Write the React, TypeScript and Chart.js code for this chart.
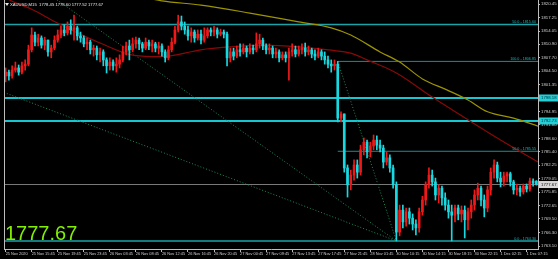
import React, { useEffect, useRef } from "react";
import { Chart, registerables } from "chart.js";

Chart.register(...registerables);

// ---------- data ----------
const timeTickBars = [0, 8, 16, 24, 32, 40, 48, 56, 64, 72, 80, 88, 96, 104, 112, 120, 128, 136, 144, 152, 160];
const timeTickLabels = [
  "25 Nov 2020", "25 Nov 15:45", "25 Nov 19:45", "25 Nov 23:45", "26 Nov 03:45", "26 Nov 08:45",
  "26 Nov 12:45", "26 Nov 16:45", "26 Nov 20:45", "27 Nov 00:45", "27 Nov 09:45", "27 Nov 13:45",
  "27 Nov 17:45", "27 Nov 21:45", "28 Nov 01:45", "30 Nov 10:15", "30 Nov 14:15", "30 Nov 18:15",
  "30 Nov 22:15", "1 Dec 02:15", "1 Dec 07:15",
];
const priceTicks = [
  1820.45, 1817.25, 1814.05, 1810.9, 1807.7, 1804.5, 1801.35, 1798.15, 1794.95, 1791.8,
  1788.6, 1785.4, 1782.25, 1779.05, 1775.85, 1772.65, 1769.5, 1766.3, 1763.1,
];

const opens = [
  1803.4, 1804.3, 1803.4, 1804.8, 1805.3, 1804.3, 1805.8, 1806.2, 1809.6, 1813.1,
  1811.4, 1812.4, 1810.7, 1811.9, 1809.1, 1810.0, 1811.9, 1813.1, 1814.3, 1813.6,
  1815.2, 1814.3, 1814.8, 1812.9, 1812.4, 1811.0, 1811.4, 1809.6, 1810.0, 1808.4,
  1809.1, 1807.2, 1805.8, 1806.7, 1805.8, 1806.2, 1807.2, 1809.1, 1810.5, 1809.6,
  1811.0, 1811.9, 1811.0, 1810.0, 1811.4, 1810.5, 1811.0, 1810.0, 1810.5, 1809.1,
  1807.7, 1809.6, 1811.4, 1814.3, 1816.2, 1815.2, 1814.3, 1812.9, 1813.8, 1812.4,
  1813.3, 1811.9, 1812.9, 1814.3, 1813.8, 1814.3, 1813.3, 1813.8, 1813.3, 1807.7,
  1809.1, 1808.1, 1809.6, 1809.1, 1810.0, 1809.1, 1810.0, 1809.6, 1811.0, 1811.9,
  1810.5, 1809.6, 1810.0, 1808.6, 1809.1, 1807.7, 1808.4, 1807.7, 1809.1, 1809.6,
  1808.6, 1809.6, 1810.0, 1809.1, 1809.6, 1808.6, 1808.1, 1809.1, 1808.1, 1807.2,
  1806.2, 1805.8, 1806.2, 1793.4, 1794.4,
  1781.6, 1777.6, 1779.9, 1782.3, 1780.6, 1785.9, 1787.7, 1785.4, 1786.8, 1788.2,
  1787.0, 1786.3, 1783.0, 1784.0, 1781.6, 1777.6, 1766.4, 1771.6, 1768.8, 1771.2,
  1769.7, 1768.3, 1767.4, 1771.2, 1774.0, 1777.6, 1779.9, 1778.3, 1775.2, 1776.8,
  1774.5, 1772.8, 1771.2, 1770.4, 1772.1, 1770.7, 1771.6, 1769.3, 1771.2, 1772.8,
  1775.2, 1776.8, 1774.0, 1772.1, 1776.4, 1780.6, 1782.3, 1779.2, 1778.3, 1779.7,
  1780.2, 1778.3, 1776.4, 1776.8, 1775.9, 1777.3, 1776.6, 1778.5, 1778.45,
];
const highs = [
  1805.3, 1804.8, 1805.8, 1806.7, 1806.0, 1806.7, 1807.2, 1810.7, 1814.8, 1813.8,
  1813.3, 1812.9, 1812.6, 1811.9, 1810.7, 1812.9, 1814.3, 1815.2, 1815.5, 1816.2,
  1816.7, 1817.8, 1815.2, 1813.8, 1812.9, 1812.4, 1811.9, 1810.7, 1810.5, 1810.0,
  1809.6, 1807.7, 1807.7, 1807.2, 1807.7, 1808.4, 1810.5, 1811.4, 1811.9, 1812.4,
  1812.6, 1812.4, 1811.4, 1812.4, 1811.9, 1811.9, 1811.4, 1811.4, 1811.0, 1809.6,
  1810.5, 1812.4, 1815.2, 1817.8, 1817.6, 1816.2, 1815.2, 1814.8, 1814.3, 1814.3,
  1814.3, 1814.8, 1814.8, 1814.8, 1815.2, 1814.8, 1814.5, 1814.3, 1813.8, 1810.0,
  1810.0, 1810.5, 1811.0, 1811.0, 1810.5, 1811.0, 1810.7, 1813.6, 1813.3, 1812.4,
  1811.0, 1811.0, 1810.5, 1810.0, 1809.6, 1809.1, 1809.1, 1810.0, 1811.0, 1810.5,
  1810.5, 1811.0, 1811.2, 1810.5, 1810.0, 1809.6, 1810.0, 1809.6, 1809.1, 1808.1,
  1807.2, 1807.2, 1806.85, 1794.9, 1794.4,
  1782.3, 1781.1, 1783.5, 1783.5, 1787.0, 1788.7, 1788.2, 1787.7, 1789.4, 1789.2,
  1788.2, 1787.0, 1785.4, 1784.7, 1782.3, 1778.3, 1772.8, 1772.8, 1772.1, 1772.1,
  1770.7, 1769.3, 1772.1, 1774.9, 1778.3, 1781.6, 1781.1, 1779.2, 1777.6, 1777.3,
  1775.7, 1774.0, 1772.8, 1772.8, 1772.8, 1772.6, 1772.6, 1772.1, 1774.0, 1776.4,
  1778.0, 1777.3, 1775.2, 1777.3, 1781.6, 1783.5, 1783.0, 1780.6, 1780.6, 1780.6,
  1780.6, 1778.7, 1777.8, 1777.3, 1777.8, 1777.8, 1779.2, 1779.0, 1778.6,
];
const lows = [
  1802.0, 1802.4, 1802.9, 1804.3, 1803.6, 1803.9, 1804.8, 1805.8, 1809.1, 1810.5,
  1810.5, 1810.0, 1809.6, 1808.1, 1807.7, 1809.6, 1811.4, 1812.4, 1812.9, 1813.1,
  1813.3, 1811.9, 1811.9, 1811.4, 1810.3, 1809.6, 1808.6, 1808.1, 1807.2, 1806.7,
  1805.8, 1804.1, 1804.8, 1804.8, 1804.3, 1805.3, 1806.7, 1808.4, 1807.2, 1809.1,
  1810.0, 1809.6, 1809.1, 1809.6, 1809.6, 1809.1, 1809.1, 1808.6, 1808.1, 1806.7,
  1807.2, 1809.1, 1811.0, 1813.8, 1814.3, 1813.3, 1811.9, 1811.4, 1811.4, 1811.9,
  1811.0, 1811.4, 1812.4, 1812.9, 1812.9, 1812.4, 1812.9, 1812.4, 1805.8, 1806.7,
  1807.2, 1807.7, 1808.1, 1808.6, 1807.9, 1808.6, 1808.6, 1809.1, 1810.0, 1809.6,
  1808.6, 1808.6, 1807.7, 1807.7, 1806.7, 1807.2, 1806.7, 1802.4, 1808.1, 1807.9,
  1808.1, 1808.6, 1808.1, 1808.4, 1807.7, 1807.2, 1807.7, 1807.2, 1806.2, 1805.3,
  1804.3, 1804.8, 1792.5, 1792.5, 1780.6,
  1774.7, 1776.4, 1778.7, 1779.2, 1779.9, 1784.7, 1784.0, 1784.2, 1785.9, 1785.9,
  1785.4, 1781.6, 1782.3, 1780.6, 1776.8, 1764.3, 1765.5, 1767.4, 1767.8, 1768.3,
  1766.9, 1765.7, 1766.4, 1770.4, 1772.8, 1776.8, 1777.3, 1774.0, 1773.3, 1772.8,
  1771.6, 1769.7, 1764.3, 1768.8, 1769.3, 1768.8, 1765.0, 1766.9, 1769.7, 1771.6,
  1774.0, 1772.6, 1770.0, 1771.2, 1775.2, 1779.2, 1778.3, 1777.1, 1777.3, 1778.3,
  1777.3, 1775.4, 1775.2, 1774.9, 1775.4, 1775.9, 1776.1, 1777.3, 1777.52,
];
const closes = [
  1804.3, 1803.4, 1804.8, 1805.3, 1804.3, 1805.8, 1806.2, 1809.6, 1813.1, 1811.4,
  1812.4, 1810.7, 1811.9, 1809.1, 1810.0, 1811.9, 1813.1, 1814.3, 1813.6, 1815.2,
  1814.3, 1814.8, 1812.9, 1812.4, 1811.0, 1811.4, 1809.6, 1810.0, 1808.4, 1809.1,
  1807.2, 1805.8, 1806.7, 1805.8, 1806.2, 1807.2, 1809.1, 1810.5, 1809.6, 1811.0,
  1811.9, 1811.0, 1810.0, 1811.4, 1810.5, 1811.0, 1810.0, 1810.5, 1809.1, 1807.7,
  1809.6, 1811.4, 1814.3, 1816.2, 1815.2, 1814.3, 1812.9, 1813.8, 1812.4, 1813.3,
  1811.9, 1812.9, 1814.3, 1813.8, 1814.3, 1813.3, 1813.8, 1813.3, 1807.7, 1809.1,
  1808.1, 1809.6, 1809.1, 1810.0, 1809.1, 1810.0, 1809.6, 1811.0, 1811.9, 1810.5,
  1809.6, 1810.0, 1808.6, 1809.1, 1807.7, 1808.4, 1807.7, 1809.1, 1809.6, 1808.6,
  1809.6, 1810.0, 1809.1, 1809.6, 1808.6, 1808.1, 1809.1, 1808.1, 1807.2, 1806.2,
  1805.8, 1806.2, 1793.4, 1794.4, 1781.6,
  1777.6, 1779.9, 1782.3, 1780.6, 1785.9, 1787.7, 1785.4, 1786.8, 1788.2, 1787.0,
  1786.3, 1783.0, 1784.0, 1781.6, 1777.6, 1766.4, 1771.6, 1768.8, 1771.2, 1769.7,
  1768.3, 1767.4, 1771.2, 1774.0, 1777.6, 1779.9, 1778.3, 1775.2, 1776.8, 1774.5,
  1772.8, 1771.2, 1770.4, 1772.1, 1770.7, 1771.6, 1769.3, 1771.2, 1772.8, 1775.2,
  1776.8, 1774.0, 1772.1, 1776.4, 1780.6, 1782.3, 1779.2, 1778.3, 1779.7, 1780.2,
  1778.3, 1776.4, 1776.8, 1775.9, 1777.3, 1776.6, 1778.5, 1778.0, 1777.67,
];

// moving averages (key points: bar index / price)
const maFastBars = [0, 2, 8, 15, 22, 29, 38, 45, 50, 55, 60, 69, 79, 90, 100, 106, 111, 120, 131, 142, 152, 163.5];
const maFastValues = [1821.9, 1821.1, 1819.2, 1816.3, 1813.6, 1811.2, 1808.5, 1808.0, 1808.1, 1808.8, 1809.6, 1810.3, 1810.7, 1810.3, 1809.5, 1808.8, 1807.2, 1804.1, 1798.4, 1793.0, 1788.2, 1783.0];
const maSlowBars = [0, 30, 48, 60, 75, 90, 100, 106, 115, 121, 128, 135.5, 142, 148, 156, 163.5];
const maSlowValues = [1828.0, 1824.2, 1821.2, 1820.2, 1818.3, 1816.2, 1814.8, 1813.1, 1809.1, 1806.7, 1802.7, 1800.1, 1797.7, 1794.9, 1793.4, 1791.5];

// fan lines from the low
const fanOriginBar = 120;
const fanOriginPrice = 1764.3;
const fanTargetBars = [102, -0.5, 12];
const fanTargetPrices = [1806.85, 1799.5, 1823.5];

// horizontal objects
const fibStartBar = 102;
const fibLevels = [1806.85, 1785.55];
const fibTexts = ["100.0 - 1806.85", "50.0 - 1785.55"];
const levelLines = [1815.6, 1764.3];
const levelTexts = ["50.0 - 1815.60", "0.0 - 1764.30"];
const markLines = [1798.18, 1792.73];
const lastPrice = 1777.67;
const headerText = "XAUUSD,M15  1778.45 1778.60 1777.52 1777.67";

// ---------- styles ----------
const X_MIN = -0.5;
const X_MAX = 163.5;
const UP = "#f01818";
const DOWN = "#18d8e0";
const FONT = "'Liberation Sans', Arial, sans-serif";

const overlay = {
  id: "overlay",
  afterDraw(chart: any) {
    const { ctx, chartArea: a, scales } = chart;
    const y = scales.y;
    ctx.save();
    // left frame line
    ctx.strokeStyle = "#bdbdbd";
    ctx.lineWidth = 1;
    ctx.beginPath();
    ctx.moveTo(a.left + 0.5, a.top);
    ctx.lineTo(a.left + 0.5, a.bottom);
    ctx.stroke();

    // fib / level texts
    ctx.font = `3.7px ${FONT}`;
    ctx.fillStyle = "#23b3b6";
    ctx.textAlign = "right";
    ctx.textBaseline = "bottom";
    fibLevels.forEach((v, i) => ctx.fillText(fibTexts[i], a.right - 2, y.getPixelForValue(v) - 0.5));
    levelLines.forEach((v, i) => ctx.fillText(levelTexts[i], a.right - 2, y.getPixelForValue(v) - 0.5));

    // right axis boxes
    ctx.font = `4.3px ${FONT}`;
    ctx.textAlign = "left";
    ctx.textBaseline = "middle";
    const box = (v: number, bg: string, fg: string) => {
      const py = y.getPixelForValue(v);
      ctx.fillStyle = bg;
      ctx.fillRect(a.right + 1, py - 3.5, 558 - a.right - 1, 7);
      ctx.fillStyle = fg;
      ctx.fillText(v.toFixed(2), a.right + 3, py + 0.3);
    };
    markLines.forEach((v) => box(v, "#22d0d8", "#003036"));
    box(lastPrice, "#d6d6d6", "#111111");

    // header
    ctx.fillStyle = "#e8e8e8";
    ctx.beginPath();
    ctx.moveTo(a.left + 1, 3);
    ctx.lineTo(a.left + 5, 3);
    ctx.lineTo(a.left + 3, 6);
    ctx.closePath();
    ctx.fill();
    ctx.font = `4.2px ${FONT}`;
    ctx.textAlign = "left";
    ctx.textBaseline = "middle";
    ctx.fillText(headerText, a.left + 6, 5);

    // big last price
    ctx.font = `20px ${FONT}`;
    ctx.fillStyle = "#80f000";
    ctx.textBaseline = "alphabetic";
    ctx.fillText(lastPrice.toFixed(2), a.left + 1, y.getPixelForValue(fanOriginPrice) - 0.5);
    ctx.restore();
  },
};

function hLine(v: number, from: number, color: string, width: number, dash: number[] = []) {
  return {
    type: "line",
    data: [{ x: from, y: v }, { x: X_MAX, y: v }],
    borderColor: color,
    borderWidth: width,
    borderDash: dash,
    pointRadius: 0,
    order: 3,
  };
}

export default function App() {
  const ref = useRef<HTMLCanvasElement>(null);
  useEffect(() => {
    document.body.style.margin = "0";
    document.body.style.background = "#000";
    const canvas = ref.current!;
    const colorOf = (ctx: any) => (closes[ctx.dataIndex] >= opens[ctx.dataIndex] ? UP : DOWN);

    const datasets: any[] = [
      {
        type: "bar",
        data: highs.map((h, i) => ({ x: i, y: [lows[i], h] })),
        backgroundColor: colorOf,
        barThickness: 1,
        grouped: false,
        order: 1,
      },
      {
        type: "bar",
        data: opens.map((o, i) => ({ x: i, y: [o, closes[i]] })),
        backgroundColor: colorOf,
        barThickness: 2,
        minBarLength: 1,
        grouped: false,
        order: 0,
      },
      {
        type: "line",
        data: maSlowBars.map((b, i) => ({ x: b, y: maSlowValues[i] })),
        borderColor: "#9c9400",
        borderWidth: 1.2,
        pointRadius: 0,
        cubicInterpolationMode: "monotone",
        order: 2,
      },
      {
        type: "line",
        data: maFastBars.map((b, i) => ({ x: b, y: maFastValues[i] })),
        borderColor: "#8c0808",
        borderWidth: 1.2,
        pointRadius: 0,
        cubicInterpolationMode: "monotone",
        order: 2,
      },
      ...fanTargetBars.map((b, i) => ({
        type: "line",
        data: [{ x: b, y: fanTargetPrices[i] }, { x: fanOriginBar, y: fanOriginPrice }],
        borderColor: "#1d8a58",
        borderWidth: 1,
        borderDash: [1, 2],
        pointRadius: 0,
        order: 3,
      })),
      ...levelLines.map((v) => hLine(v, X_MIN, "#1aa3a8", 1.4)),
      ...fibLevels.map((v) => hLine(v, fibStartBar, "#178e93", 1)),
      ...markLines.map((v) => hLine(v, X_MIN, "#16c6d0", 2)),
      hLine(lastPrice, X_MIN, "#7a7a7a", 1),
    ];

    const chart = new Chart(canvas, {
      type: "bar",
      data: { datasets },
      plugins: [overlay],
      options: {
        animation: false,
        responsive: false,
        devicePixelRatio: 1,
        layout: { padding: { left: 4, right: 0, top: 0, bottom: 0 } },
        plugins: { legend: { display: false }, tooltip: { enabled: false } },
        scales: {
          x: {
            type: "linear",
            min: X_MIN,
            max: X_MAX,
            offset: false,
            afterBuildTicks: (s: any) => {
              s.ticks = timeTickBars.map((v) => ({ value: v }));
            },
            afterFit: (s: any) => {
              s.height = 10;
              s.paddingLeft = 0;
              s.paddingRight = 0;
            },
            ticks: {
              autoSkip: false,
              maxRotation: 0,
              minRotation: 0,
              align: "start",
              padding: 0,
              color: "#cfcfcf",
              font: { size: 3.9, family: FONT },
              callback: (_v: any, idx: number) => timeTickLabels[idx] ?? "",
            },
            grid: { drawOnChartArea: false, tickLength: 3, color: "#bdbdbd", offset: false },
            border: { color: "#bdbdbd" },
          },
          y: {
            type: "linear",
            position: "right",
            min: 1762.39,
            max: 1821.4,
            beginAtZero: false,
            afterBuildTicks: (s: any) => {
              s.ticks = priceTicks.map((v) => ({ value: v }));
            },
            afterFit: (s: any) => {
              s.width = 20;
              s.paddingTop = 0;
              s.paddingBottom = 0;
            },
            ticks: {
              autoSkip: false,
              padding: 1,
              color: "#cfcfcf",
              font: { size: 4.3, family: FONT },
              callback: (v: any) => Number(v).toFixed(2),
            },
            grid: { drawOnChartArea: false, tickLength: 2, color: "#bdbdbd" },
            border: { color: "#bdbdbd" },
          },
        },
      } as any,
    } as any);
    return () => chart.destroy();
  }, []);

  return (
    <div style={{ width: 558, height: 259, background: "#000" }}>
      <canvas ref={ref} width={558} height={259} style={{ display: "block", width: 558, height: 259 }} />
    </div>
  );
}
